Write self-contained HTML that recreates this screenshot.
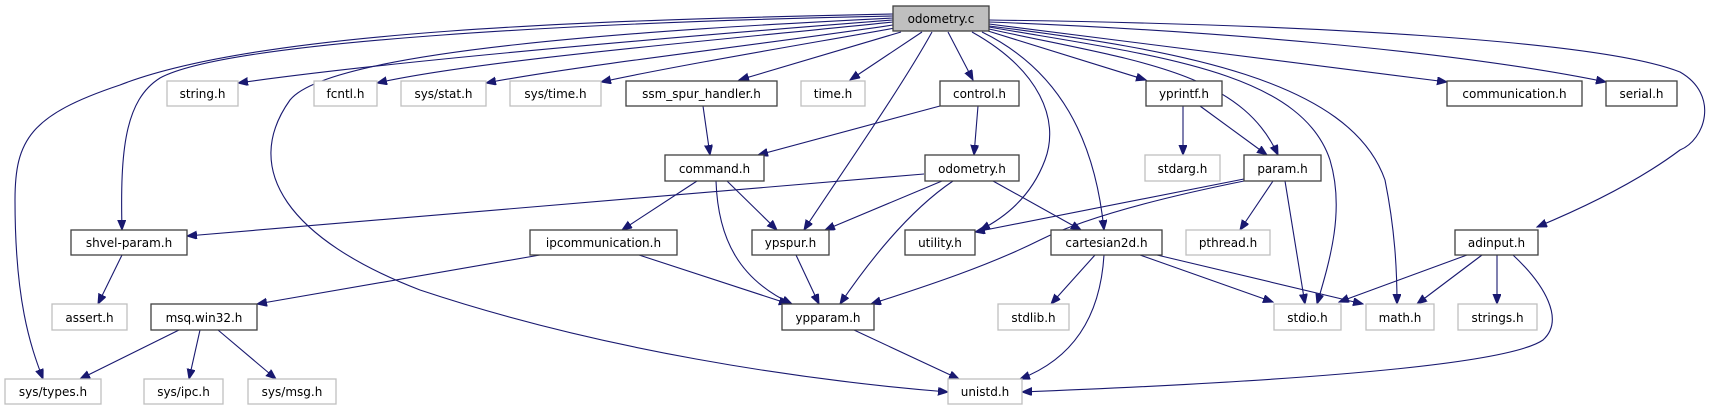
<!DOCTYPE html>
<html><head><meta charset="utf-8"><style>
html,body{margin:0;padding:0;background:#fff;}
svg{display:block;}
text{font-family:"DejaVu Sans","Liberation Sans",sans-serif;font-size:12px;fill:#000;text-anchor:middle;}
.n{fill:#fff;stroke:#404040;stroke-width:1.3;}
.s{fill:#fff;stroke:#bfbfbf;stroke-width:1.3;}
.e{fill:none;stroke:#191970;stroke-width:1.1;}
</style></head><body>
<svg width="1709" height="411" viewBox="0 0 1709 411" xmlns="http://www.w3.org/2000/svg">
<defs>
<marker id="a" markerUnits="userSpaceOnUse" markerWidth="12" markerHeight="10" refX="10" refY="4" orient="auto">
<path d="M0,0 L10,4 L0,8 Z" fill="#191970" stroke="#191970"/>
</marker>
</defs>
<g marker-end="url(#a)">
<!-- from odometry.c -->
<path class="e" d="M893,14 C600,20 260,30 120,85 C30,115 15,140 15,200 C15,300 30,345 43,379"/>
<path class="e" d="M893,16 C600,22 230,40 160,78 C125,100 120,150 122,230"/>
<path class="e" d="M893,18 C650,30 330,50 290,100 C240,170 290,240 420,290 C600,350 800,380 948,392"/>
<path class="e" d="M893,20 C700,35 400,60 238,83"/>
<path class="e" d="M893,22 C720,40 480,60 377,83"/>
<path class="e" d="M893,25 C760,45 580,65 486,83"/>
<path class="e" d="M895,28 C800,45 680,65 601,82"/>
<path class="e" d="M901,32 L739,80"/>
<path class="e" d="M922,32 L850,80"/>
<path class="e" d="M932,32 C900,90 830,190 804,230"/>
<path class="e" d="M948,32 L973,80"/>
<path class="e" d="M972,32 C1040,70 1060,120 1045,160 C1030,200 1000,220 980,230"/>
<path class="e" d="M982,32 C1060,70 1095,140 1104,230"/>
<path class="e" d="M988,31 L1146,80"/>
<path class="e" d="M989,29 C1130,60 1240,70 1278,155"/>
<path class="e" d="M989,27 C1150,55 1300,70 1330,160 C1345,210 1330,260 1317,304"/>
<path class="e" d="M989,26 C1180,50 1350,80 1385,180 C1395,230 1397,270 1397,304"/>
<path class="e" d="M989,24 L1447,82"/>
<path class="e" d="M989,22 C1200,30 1450,50 1606,82"/>
<path class="e" d="M989,20 C1300,24 1600,40 1680,72 C1720,95 1705,140 1680,150 C1640,180 1590,205 1537,227"/>
<!-- others -->
<path class="e" d="M703,106 L710,155"/>
<path class="e" d="M940,106 L758,155"/>
<path class="e" d="M978,106 L974,155"/>
<path class="e" d="M697,181 L622,230"/>
<path class="e" d="M727,181 L777,230"/>
<path class="e" d="M716,181 C718,240 740,280 792,304"/>
<path class="e" d="M924,174 L187,236"/>
<path class="e" d="M942,181 L825,230"/>
<path class="e" d="M953,181 C910,210 870,260 840,304"/>
<path class="e" d="M993,181 L1081,230"/>
<path class="e" d="M540,255 L257,304"/>
<path class="e" d="M639,255 L789,304"/>
<path class="e" d="M796,255 L819,304"/>
<path class="e" d="M854,330 L959,379"/>
<path class="e" d="M122,255 L98,304"/>
<path class="e" d="M179,330 L80,379"/>
<path class="e" d="M200,330 L189,379"/>
<path class="e" d="M218,330 L276,379"/>
<path class="e" d="M1183,106 L1183,155"/>
<path class="e" d="M1200,106 L1267,155"/>
<path class="e" d="M1244,179 L975,232"/>
<path class="e" d="M1244,181 C1150,200 1080,220 1040,240 C990,265 930,285 871,304"/>
<path class="e" d="M1273,181 L1240,230"/>
<path class="e" d="M1285,181 L1305,304"/>
<path class="e" d="M1095,255 L1051,304"/>
<path class="e" d="M1104,255 C1100,320 1070,360 1020,379"/>
<path class="e" d="M1140,255 L1273,302"/>
<path class="e" d="M1157,255 L1363,304"/>
<path class="e" d="M1467,255 L1339,302"/>
<path class="e" d="M1482,255 L1417,304"/>
<path class="e" d="M1497,255 L1497,304"/>
<path class="e" d="M1513,255 C1545,285 1565,320 1543,340 C1500,370 1200,385 1022,392"/>
</g>
<!-- nodes -->
<rect x="893" y="6" width="96" height="25" fill="#bfbfbf" stroke="#404040" stroke-width="1.3"/><text x="941" y="23">odometry.c</text>

<rect class="s" x="167" y="81" width="71" height="25"/><text x="202.5" y="98">string.h</text>
<rect class="s" x="314" y="81" width="63" height="25"/><text x="345.5" y="98">fcntl.h</text>
<rect class="s" x="401" y="81" width="85" height="25"/><text x="443.5" y="98">sys/stat.h</text>
<rect class="s" x="510" y="81" width="91" height="25"/><text x="555.5" y="98">sys/time.h</text>
<rect class="n" x="626" y="81" width="151" height="25"/><text x="701.5" y="98">ssm_spur_handler.h</text>
<rect class="s" x="801" y="81" width="64" height="25"/><text x="833" y="98">time.h</text>
<rect class="n" x="940" y="81" width="79" height="25"/><text x="979.5" y="98">control.h</text>
<rect class="n" x="1146" y="81" width="76" height="25"/><text x="1184" y="98">yprintf.h</text>
<rect class="n" x="1447" y="81" width="135" height="25"/><text x="1514.5" y="98">communication.h</text>
<rect class="n" x="1606" y="81" width="71" height="25"/><text x="1641.5" y="98">serial.h</text>

<rect class="n" x="665" y="155" width="99" height="26"/><text x="714.5" y="173">command.h</text>
<rect class="n" x="925" y="155" width="94" height="26"/><text x="972" y="173">odometry.h</text>
<rect class="s" x="1145" y="155" width="75" height="26"/><text x="1182.5" y="173">stdarg.h</text>
<rect class="n" x="1244" y="155" width="77" height="26"/><text x="1282.5" y="173">param.h</text>

<rect class="n" x="71" y="230" width="116" height="25"/><text x="129" y="247">shvel-param.h</text>
<rect class="n" x="530" y="230" width="147" height="25"/><text x="603.5" y="247">ipcommunication.h</text>
<rect class="n" x="752" y="230" width="77" height="25"/><text x="790.5" y="247">ypspur.h</text>
<rect class="n" x="905" y="230" width="70" height="25"/><text x="940" y="247">utility.h</text>
<rect class="n" x="1051" y="230" width="111" height="25"/><text x="1106.5" y="247">cartesian2d.h</text>
<rect class="s" x="1186" y="230" width="84" height="25"/><text x="1228" y="247">pthread.h</text>
<rect class="n" x="1455" y="230" width="83" height="25"/><text x="1496.5" y="247">adinput.h</text>

<rect class="s" x="52" y="304" width="75" height="26"/><text x="89.5" y="322">assert.h</text>
<rect class="n" x="151" y="304" width="106" height="26"/><text x="204" y="322">msq.win32.h</text>
<rect class="n" x="782" y="304" width="92" height="26"/><text x="828" y="322">ypparam.h</text>
<rect class="s" x="998" y="304" width="71" height="26"/><text x="1033.5" y="322">stdlib.h</text>
<rect class="s" x="1274" y="304" width="67" height="26"/><text x="1307.5" y="322">stdio.h</text>
<rect class="s" x="1366" y="304" width="68" height="26"/><text x="1400" y="322">math.h</text>
<rect class="s" x="1458" y="304" width="79" height="26"/><text x="1497.5" y="322">strings.h</text>

<rect class="s" x="5" y="379" width="96" height="25"/><text x="53" y="396">sys/types.h</text>
<rect class="s" x="144" y="379" width="79" height="25"/><text x="183.5" y="396">sys/ipc.h</text>
<rect class="s" x="248" y="379" width="88" height="25"/><text x="292" y="396">sys/msg.h</text>
<rect class="s" x="948" y="379" width="74" height="25"/><text x="985" y="396">unistd.h</text>
</svg>
</body></html>
